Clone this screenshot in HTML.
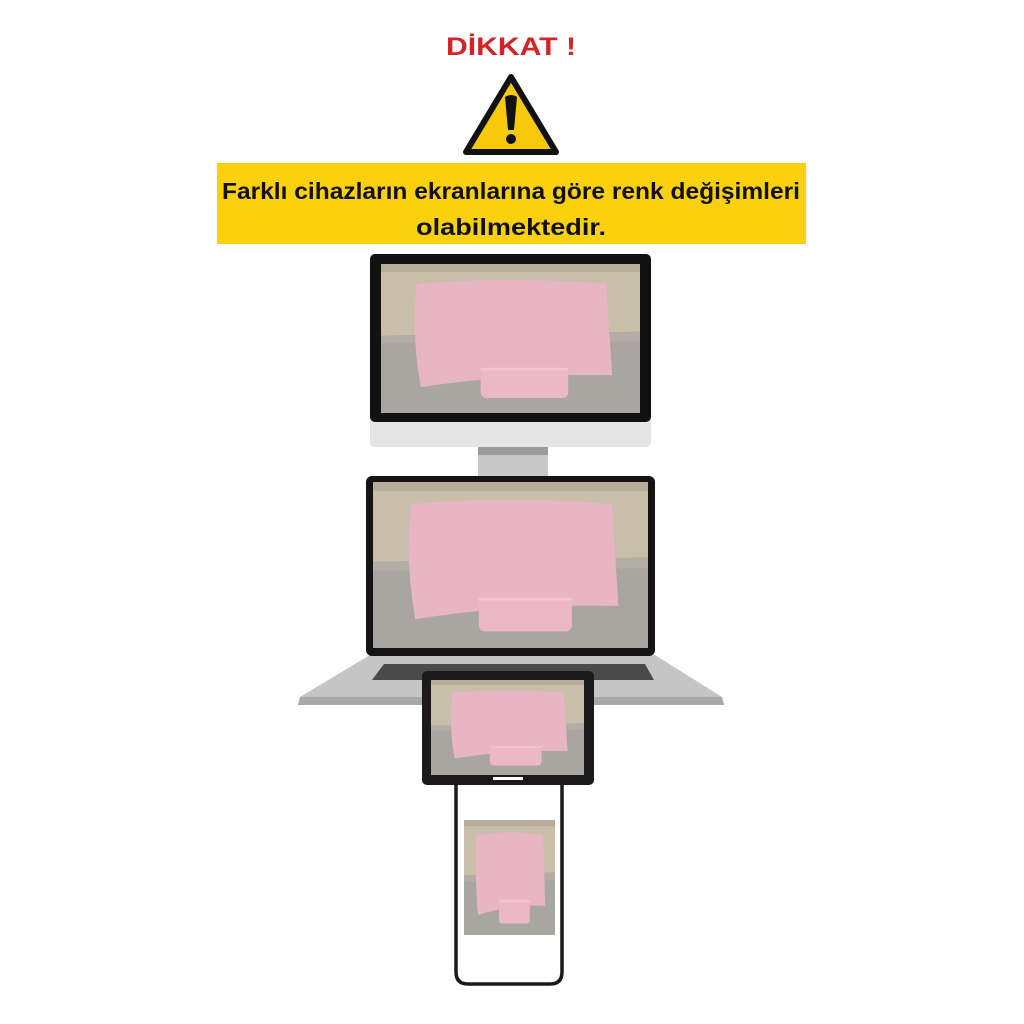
<!DOCTYPE html>
<html><head><meta charset="utf-8"><style>html,body{margin:0;padding:0;background:#fff;width:1024px;height:1024px;overflow:hidden}</style></head>
<body>
<svg width="1024" height="1024" viewBox="0 0 1024 1024" xmlns="http://www.w3.org/2000/svg">
<defs>
<symbol id="photo" viewBox="0 0 260 150" preserveAspectRatio="none">
<rect width="260" height="150" fill="#a9a5a1"/>
<rect width="260" height="72" fill="#c9bea9"/>
<rect y="0" width="260" height="8" fill="#b8ad99"/>
<path d="M0 72 L260 68 L260 78 L0 80Z" fill="#b3ada6"/>
<path d="M36 20 Q130 12 226 20 L232 112 Q130 110 40 124 Q30 70 36 20Z" fill="#e8b5c4"/>
<rect x="100" y="103" width="88" height="32" rx="6" fill="#edb8c6"/>
<path d="M100 106 L188 106" stroke="#f3c6d2" stroke-width="2"/>
</symbol>
</defs>
<text x="511" y="55" text-anchor="middle" font-family="Liberation Sans, sans-serif" font-weight="bold" font-size="25" fill="#d42227" textLength="130" lengthAdjust="spacingAndGlyphs">DİKKAT !</text>
<path d="M511 77 L556 152 L466 152Z" fill="#f7c90b" stroke="#111" stroke-width="6" stroke-linejoin="round"/>
<path d="M505 97 Q511 93 517 97 L514 130 L508 130Z" fill="#111"/>
<circle cx="511" cy="139" r="5" fill="#111"/>
<rect x="217" y="163" width="589" height="81" fill="#fbd10f"/>
<text x="511" y="199" text-anchor="middle" font-family="Liberation Sans, sans-serif" font-weight="bold" font-size="23" fill="#111" textLength="578" lengthAdjust="spacingAndGlyphs">Farklı cihazların ekranlarına göre renk değişimleri</text>
<text x="511" y="235" text-anchor="middle" font-family="Liberation Sans, sans-serif" font-weight="bold" font-size="23" fill="#111" textLength="190" lengthAdjust="spacingAndGlyphs">olabilmektedir.</text>
<!-- monitor -->
<rect x="478" y="445" width="70" height="32" fill="#c8c8c8"/>
<rect x="478" y="445" width="70" height="10" fill="#9a9a9a"/>
<path d="M370 420 L651 420 L651 442 Q651 447 646 447 L375 447 Q370 447 370 442Z" fill="#e4e4e4"/>
<rect x="370" y="254" width="281" height="168" rx="5" fill="#111"/>
<use href="#photo" x="381" y="264" width="259" height="149"/>
<!-- laptop base -->
<path d="M370 655 L655 655 L722 697 L724 705 L298 705 L300 697Z" fill="#c5c5c5"/>
<path d="M300 697 L722 697 L724 705 L298 705Z" fill="#a9a9a9"/>
<path d="M384 664 L645 664 L654 680 L372 680Z" fill="#4a4a4a"/>
<rect x="366" y="476" width="289" height="180" rx="6" fill="#141414"/>
<use href="#photo" x="373" y="482" width="275" height="166"/>
<!-- tablet -->
<rect x="422" y="671" width="172" height="114" rx="5" fill="#1a1a1a"/>
<use href="#photo" x="431" y="680" width="153" height="95"/>
<rect x="493" y="777" width="30" height="3" fill="#fff"/>
<!-- phone -->
<path d="M456 785 L456 972 Q456 984 468 984 L550 984 Q562 984 562 972 L562 785" fill="#fff" stroke="#1a1a1a" stroke-width="3.5"/>
<use href="#photo" x="464" y="820" width="91" height="115"/>
</svg>
</body></html>
